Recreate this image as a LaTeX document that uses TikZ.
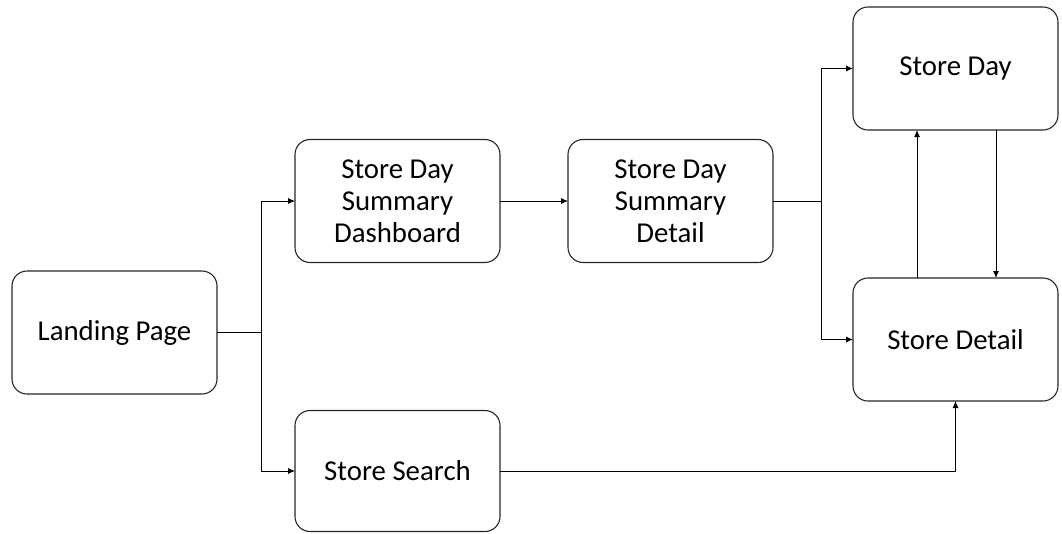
\documentclass[tikz,border=0pt]{standalone}
\usepackage{fontspec}
\setmainfont{Carlito}
\usetikzlibrary{arrows.meta,calc}
\begin{document}
\begin{tikzpicture}[x=1pt,y=-1pt,
  box/.style={draw=black!85,line width=1.1pt,rounded corners=15pt,minimum width=205pt,minimum height=123pt,align=center,font=\fontsize{28.8}{32}\selectfont,inner sep=2pt,outer sep=0pt},
  conn/.style={line width=0.9pt,-{Latex[length=7pt,width=6pt]}},
  plain/.style={line width=0.9pt}]
\useasboundingbox (0,0) rectangle (1062,533);
\node[box] (LP) at (114.5,332.5) {Landing Page};
\node[box] (SDSD) at (397.5,201) {Store Day\\Summary\\Dashboard};
\node[box] (SDD) at (670.5,201) {Store Day\\Summary\\Detail};
\node[box] (SD) at (955.5,68.5) {Store Day};
\node[box] (SDet) at (955.5,339.5) {Store Detail};
\node[box,minimum height=121pt] (SS) at (397.5,471) {Store Search};
\coordinate (j1) at (261,332.5);
\coordinate (j2) at (821,201);
\draw[plain] (LP.east) -- (j1);
\draw[conn] (j1) |- (SDSD.west);
\draw[conn] (j1) |- (SS.west);
\draw[conn] (SDSD.east) -- (SDD.west);
\draw[plain] (SDD.east) -- (j2);
\draw[conn] (j2) |- (SD.west);
\draw[conn] (j2) |- (SDet.west);
\draw[conn] ($(SD.south)+(40.5,0)$) -- ($(SDet.north)+(40.5,0)$);
\draw[conn] ($(SDet.north)+(-38.5,0)$) -- ($(SD.south)+(-38.5,0)$);
\draw[conn] (SS.east) -| (SDet.south);
\end{tikzpicture}
\end{document}
